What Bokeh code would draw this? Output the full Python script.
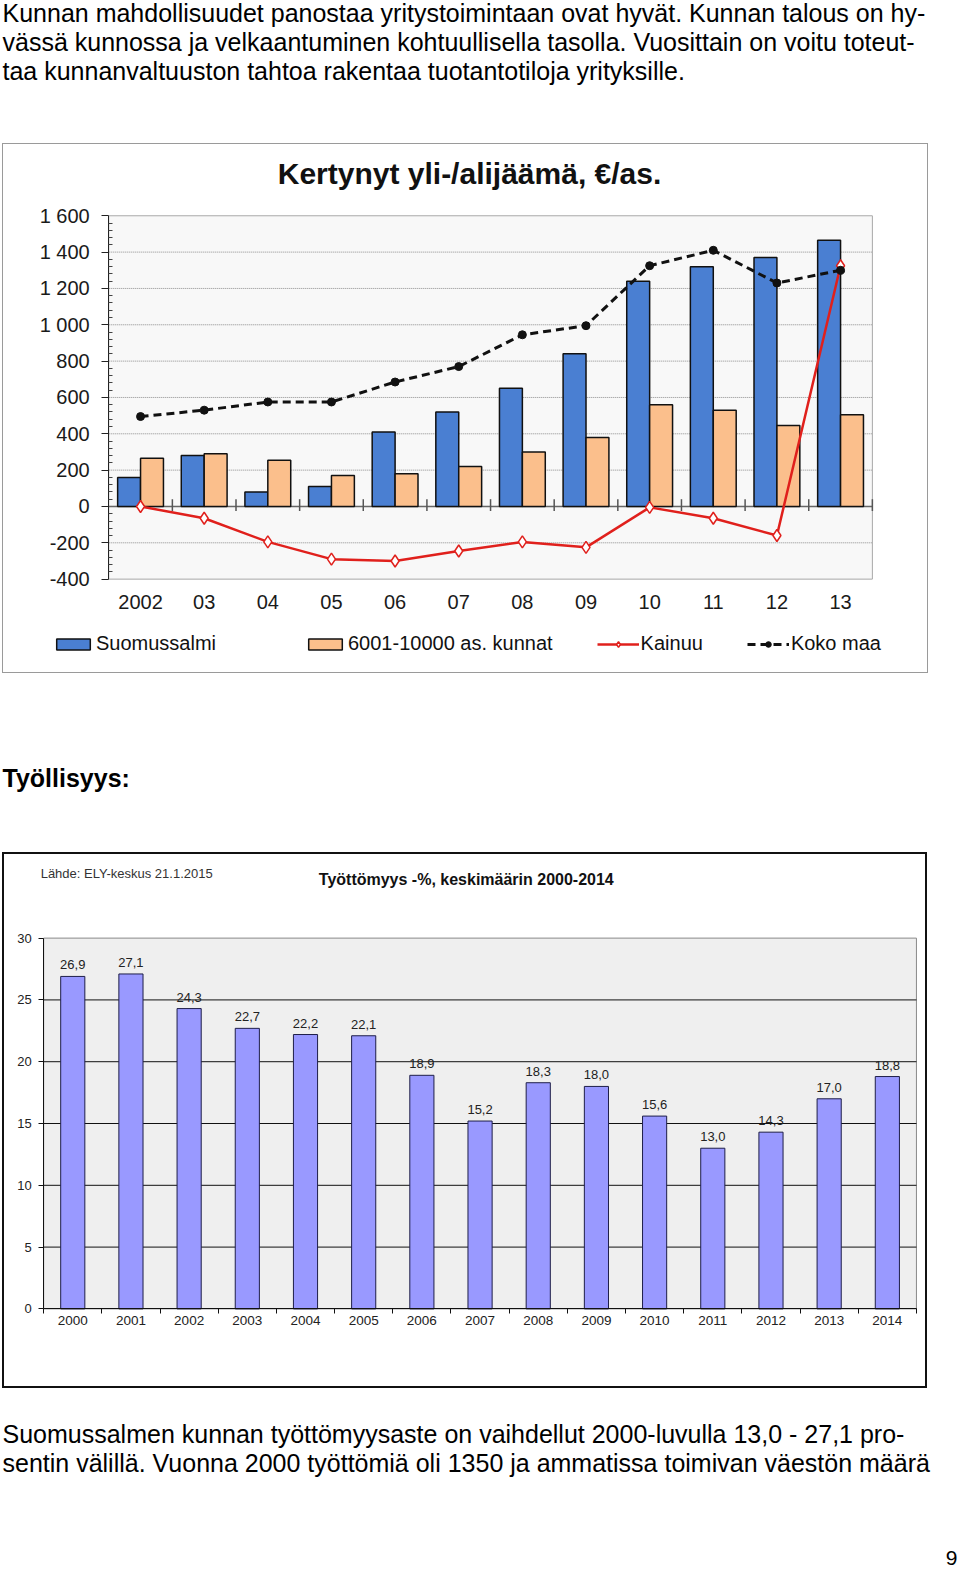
from bokeh.plotting import figure
from bokeh.models import (ColumnDataSource, Range1d, FixedTicker, Legend, LegendItem, Label, Spacer)
from bokeh.layouts import column, row
from bokeh.transform import dodge
from bokeh.core.properties import value
from bokeh.embed import file_html
from bokeh.resources import INLINE

FONT = "Liberation Sans"

# ---------------- page texts ----------------
intro_lines = [
    "Kunnan mahdollisuudet panostaa yritystoimintaan ovat hyvät. Kunnan talous on hy-",
    "vässä kunnossa ja velkaantuminen kohtuullisella tasolla. Vuosittain on voitu toteut-",
    "taa kunnanvaltuuston tahtoa rakentaa tuotantotiloja yrityksille.",
]
heading = "Työllisyys:"
outro_lines = [
    "Suomussalmen kunnan työttömyysaste on vaihdellut 2000-luvulla 13,0 - 27,1 pro-",
    "sentin välillä. Vuonna 2000 työttömiä oli 1350 ja ammatissa toimivan väestön määrä",
]
page_no = "9"

# ---------------- chart 1 data ----------------
chart1_title = "Kertynyt yli-/alijäämä, €/as."
years1 = ["2002", "03", "04", "05", "06", "07", "08", "09", "10", "11", "12", "13"]
suomussalmi = [160, 280, 80, 110, 410, 520, 650, 840, 1240, 1320, 1370, 1465]
kunnat = [265, 290, 255, 170, 180, 220, 300, 380, 560, 530, 445, 505]
kainuu = [0, -65, -195, -290, -300, -245, -195, -225, -5, -65, -160, 1325]
koko_maa = [495, 530, 575, 575, 685, 770, 945, 995, 1325, 1410, 1230, 1300]
series1_names = ["Suomussalmi", "6001-10000 as. kunnat", "Kainuu", "Koko maa"]
y1_ticks = list(range(-400, 1601, 200))

# ---------------- chart 2 data ----------------
chart2_title = "Työttömyys -%,  keskimäärin 2000-2014"
chart2_source = "Lähde: ELY-keskus 21.1.2015"
years2 = ["2000", "2001", "2002", "2003", "2004", "2005", "2006", "2007",
          "2008", "2009", "2010", "2011", "2012", "2013", "2014"]
tyottomyys = [26.9, 27.1, 24.3, 22.7, 22.2, 22.1, 18.9, 15.2, 18.3, 18.0, 15.6, 13.0, 14.3, 17.0, 18.8]
y2_ticks = [0, 5, 10, 15, 20, 25, 30]


def fi_num(v):
    s = f"{abs(v):,}".replace(",", " ")
    return ("-" if v < 0 else "") + s


def text_fig(w, h):
    f = figure(width=w, height=h, x_range=Range1d(0, w), y_range=Range1d(h, 0),
               x_axis_type=None, y_axis_type=None, output_backend="svg",
               toolbar_location=None, min_border=0)
    f.grid.visible = False
    f.outline_line_color = None
    f.background_fill_color = "white"
    f.border_fill_color = "white"
    return f


class Mapper:
    """Maps canvas pixels onto data so that [lo, hi] covers the plot area."""
    def __init__(self, lo, hi, pad_lo, pad_hi, size):
        self.lo, self.hi, self.pad_lo = lo, hi, pad_lo
        self.u = (hi - lo) / (size - pad_lo - pad_hi)
        self.start = lo - pad_lo * self.u
        self.end = hi + pad_hi * self.u

    def x(self, px):          # px from canvas left
        return self.lo + (px - self.pad_lo) * self.u

    def y(self, py):          # py from canvas top (pad_lo is the top pad here)
        return self.hi - (py - self.pad_lo) * self.u


PAGE_W = 958

# ---------------- top text ----------------
top = text_fig(PAGE_W, 143)
top.text(x=[2] * len(intro_lines), y=[12 + 29 * k for k in range(len(intro_lines))], text=intro_lines,
         text_font=value(FONT), text_font_size="25px", text_color="#000",
         text_align="left", text_baseline="middle")

# ---------------- chart 1 ----------------
C1_W, C1_H = 926, 530              # outer size incl. 1px border
CW1, CH1 = C1_W - 2, C1_H - 2      # canvas
n1 = len(years1)
y1_lo, y1_hi = y1_ticks[0], y1_ticks[-1]
mx1 = Mapper(-0.5, n1 - 0.5, 105, 57, CW1)
my1 = Mapper(y1_lo, y1_hi, 95, 71, CH1)
my1_top = Mapper(y1_lo, y1_hi, 71, 95, CH1)   # for top-based pixel lookups

src1 = ColumnDataSource(dict(i=list(range(n1)), s=suomussalmi, k=kunnat, ka=kainuu, km=koko_maa))
p1 = figure(width=C1_W, height=C1_H, x_range=Range1d(mx1.start, mx1.end),
            y_range=Range1d(my1.start, my1.end), output_backend="svg",
            toolbar_location=None, min_border=0,
            styles={"border": "1px solid #9a9a9a"})
p1.background_fill_color = "white"
p1.border_fill_color = "white"
p1.outline_line_color = None
p1.grid.visible = False

p1.quad(left=[-0.5], right=[n1 - 0.5], bottom=[y1_lo], top=[y1_hi],
        fill_color="#f8f8f8", line_color="#a8a8a8", line_width=1)
grid1 = y1_ticks[1:-1]
p1.segment(x0=[-0.5] * len(grid1), x1=[n1 - 0.5] * len(grid1), y0=grid1, y1=grid1,
           line_color="#8c8c8c", line_width=1, line_dash="1 1")
p1.segment(x0=[-0.5], x1=[n1 - 0.5], y0=[0], y1=[0], line_color="#666666", line_width=1.5)

r_s = p1.vbar(x=dodge("i", -0.18, range=p1.x_range), top="s", bottom=0, width=0.36,
              fill_color="#4a7fd2", line_color="#111111", line_width=1.5, source=src1)
r_o = p1.vbar(x=dodge("i", 0.18, range=p1.x_range), top="k", bottom=0, width=0.36,
              fill_color="#fbbf8c", line_color="#111111", line_width=1.5, source=src1)
p1.segment(x0=dodge("i", 0.5, range=p1.x_range), x1=dodge("i", 0.5, range=p1.x_range),
           y0=-25, y1=40, line_color="#555555", line_width=1.5, source=src1)

r_k = p1.line("i", "ka", line_color="#e0201c", line_width=2.5, source=src1)
r_km = p1.scatter("i", "ka", marker="diamond", size=12, fill_color="white",
                  line_color="#e0201c", line_width=1.5, source=src1)
r_m = p1.line("i", "km", line_color="#111111", line_width=3, line_dash="8 5", source=src1)
r_mm = p1.scatter("i", "km", marker="circle", size=8, fill_color="#111111",
                  line_color="#111111", source=src1)

p1.xaxis.fixed_location = y1_lo
p1.xaxis.bounds = (-0.5, n1 - 0.5)
p1.xaxis.ticker = FixedTicker(ticks=list(range(n1)))
p1.xaxis.major_label_overrides = {i: y for i, y in enumerate(years1)}
p1.xaxis.axis_line_color = None
p1.xaxis.major_tick_line_color = None
p1.xaxis.minor_tick_line_color = None
p1.xaxis.major_label_standoff = 10
p1.xaxis.major_label_text_font = FONT
p1.xaxis.major_label_text_font_size = "20px"
p1.xaxis.major_label_text_color = "#1a1a1a"

minor1 = [v for v in range(y1_lo, y1_hi + 1, 40) if v not in y1_ticks]
p1.yaxis.fixed_location = -0.5
p1.yaxis.bounds = (y1_lo, y1_hi)
p1.yaxis.ticker = FixedTicker(ticks=y1_ticks, minor_ticks=minor1)
p1.yaxis.major_label_overrides = {t: fi_num(t) for t in y1_ticks}
p1.yaxis.axis_line_color = "#222222"
p1.yaxis.major_tick_line_color = "#222222"
p1.yaxis.minor_tick_line_color = "#444444"
p1.yaxis.major_tick_out = 7
p1.yaxis.major_tick_in = 0
p1.yaxis.minor_tick_in = 4
p1.yaxis.minor_tick_out = 0
p1.yaxis.major_label_standoff = 12
p1.yaxis.major_label_text_font = FONT
p1.yaxis.major_label_text_font_size = "20px"
p1.yaxis.major_label_text_color = "#1a1a1a"

leg_common = dict(orientation="horizontal", padding=0, margin=0, border_line_color=None,
                  background_fill_alpha=0, label_text_font=FONT, label_text_font_size="20px",
                  label_text_color="#111111", glyph_width=42, glyph_height=14, label_standoff=2)
legA = Legend(items=[LegendItem(label=series1_names[0], renderers=[r_s])],
              location=(49, 19), **leg_common)
legB = Legend(items=[LegendItem(label=series1_names[1], renderers=[r_o]),
                     LegendItem(label=series1_names[2], renderers=[r_k, r_km]),
                     LegendItem(label=series1_names[3], renderers=[r_m, r_mm])],
              location=(301, 19), spacing=44, **leg_common)
p1.add_layout(legA)
p1.add_layout(legB)

p1.add_layout(Label(x=mx1.x(468 - 3), y=my1_top.y(173 - 144),
                    text=chart1_title, text_font=FONT, text_font_style="bold", text_font_size="30px",
                    text_color="#111111", text_align="center", text_baseline="middle"))

# ---------------- heading ----------------
mid = text_fig(PAGE_W, 179)
mid.text(x=[2], y=[104], text=[heading], text_font=value(FONT), text_font_style="bold",
         text_font_size="25px", text_color="#000", text_align="left", text_baseline="middle")

# ---------------- chart 2 ----------------
C2_W, C2_H = 925, 536               # outer size incl. 2px border
CW2, CH2 = C2_W - 4, C2_H - 4
n2 = len(years2)
y2_lo, y2_hi = y2_ticks[0], y2_ticks[-1]
mx2 = Mapper(-0.5, n2 - 0.5, 39, 13, CW2)
my2 = Mapper(y2_lo, y2_hi, 81, 83, CH2)
my2_top = Mapper(y2_lo, y2_hi, 83, 81, CH2)

src2 = ColumnDataSource(dict(i=list(range(n2)), rate=tyottomyys,
                             lab=[f"{v:.1f}".replace(".", ",") for v in tyottomyys]))
p2 = figure(width=C2_W, height=C2_H, x_range=Range1d(mx2.start, mx2.end),
            y_range=Range1d(my2.start, my2.end), output_backend="svg",
            toolbar_location=None, min_border=0,
            styles={"border": "2px solid #111111"})
p2.background_fill_color = "white"
p2.border_fill_color = "white"
p2.outline_line_color = None
p2.grid.visible = False
p2.quad(left=[-0.5], right=[n2 - 0.5], bottom=[y2_lo], top=[y2_hi],
        fill_color="#efefef", line_color="#8a8a8a", line_width=1)
grid2 = y2_ticks[1:-1]
p2.segment(x0=[-0.5] * len(grid2), x1=[n2 - 0.5] * len(grid2), y0=grid2, y1=grid2,
           line_color="#111111", line_width=1)

p2.vbar(x="i", top="rate", bottom=0, width=0.415, fill_color="#9999ff",
        line_color="#1e1e48", line_width=1, source=src2)
p2.text(x="i", y="rate", text="lab", text_align="center", text_baseline="bottom", y_offset=-7,
        text_font=value(FONT), text_font_size="13px", text_color="#222222", source=src2)

p2.xaxis.fixed_location = y2_lo
p2.xaxis.bounds = (-0.5, n2 - 0.5)
p2.xaxis.ticker = FixedTicker(ticks=list(range(n2)),
                              minor_ticks=[i - 0.5 for i in range(n2 + 1)])
p2.xaxis.major_label_overrides = {i: y for i, y in enumerate(years2)}
p2.xaxis.axis_line_color = "#111111"
p2.xaxis.major_tick_line_color = None
p2.xaxis.minor_tick_line_color = "#111111"
p2.xaxis.minor_tick_out = 5
p2.xaxis.minor_tick_in = 0
p2.xaxis.major_label_standoff = 1
p2.xaxis.major_label_text_font = FONT
p2.xaxis.major_label_text_font_size = "13.5px"
p2.xaxis.major_label_text_color = "#222222"

p2.yaxis.fixed_location = -0.5
p2.yaxis.bounds = (y2_lo, y2_hi)
p2.yaxis.ticker = FixedTicker(ticks=y2_ticks)
p2.yaxis.axis_line_color = "#111111"
p2.yaxis.major_tick_line_color = "#111111"
p2.yaxis.minor_tick_line_color = None
p2.yaxis.major_tick_out = 5
p2.yaxis.major_tick_in = 0
p2.yaxis.major_label_standoff = 7
p2.yaxis.major_label_text_font = FONT
p2.yaxis.major_label_text_font_size = "13px"
p2.yaxis.major_label_text_color = "#222222"

p2.add_layout(Label(x=mx2.x(40 - 4), y=my2_top.y(873 - 854),
                    text=chart2_source, text_font=FONT, text_font_size="13px", text_color="#333333",
                    text_align="left", text_baseline="middle"))
p2.add_layout(Label(x=mx2.x(466 - 4), y=my2_top.y(879 - 854),
                    text=chart2_title, text_font=FONT, text_font_style="bold", text_font_size="16px",
                    text_color="#111111", text_align="center", text_baseline="middle"))

# ---------------- bottom text ----------------
bot = text_fig(PAGE_W, 180)
bot.text(x=[2] * len(outro_lines), y=[45 + 29 * k for k in range(len(outro_lines))], text=outro_lines,
         text_font=value(FONT), text_font_size="25px", text_color="#000",
         text_align="left", text_baseline="middle")
bot.text(x=[957], y=[169], text=[page_no], text_font=value(FONT), text_font_size="21px",
         text_color="#000", text_align="right", text_baseline="middle")

page = column(column(top),
              row(Spacer(width=2, height=C1_H), p1),
              column(mid),
              row(Spacer(width=2, height=C2_H), p2),
              column(bot), spacing=0)
open("out.html", "w").write(file_html(page, INLINE))
